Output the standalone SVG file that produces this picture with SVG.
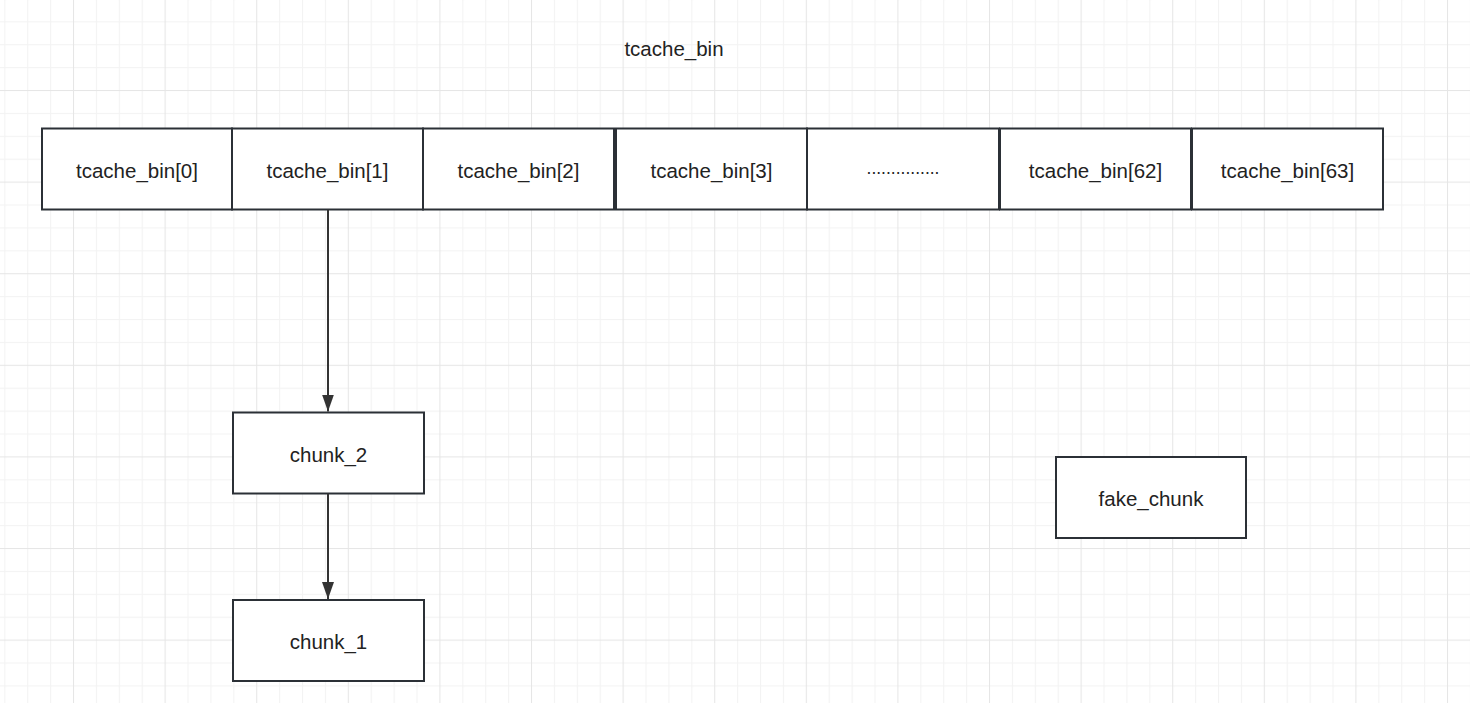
<svg xmlns="http://www.w3.org/2000/svg" width="1470" height="703" viewBox="0 0 1470 703">
<defs>
<pattern id="grid" patternUnits="userSpaceOnUse" x="73" y="90" width="91.6" height="91.6">
<rect x="0" y="0" width="91.6" height="91.6" fill="#ffffff"/>
<g fill="#f3f3f3">
<rect x="22.9" y="0" width="1" height="91.6"/>
<rect x="45.8" y="0" width="1" height="91.6"/>
<rect x="68.7" y="0" width="1" height="91.6"/>
<rect x="0" y="22.9" width="91.6" height="1"/>
<rect x="0" y="45.8" width="91.6" height="1"/>
<rect x="0" y="68.7" width="91.6" height="1"/>
</g>
<g fill="#e6e6e6">
<rect x="0" y="0" width="1" height="91.6"/>
<rect x="0" y="0" width="91.6" height="1"/>
</g>
</pattern>
<marker id="arrow" viewBox="0 0 17 12" refX="17" refY="6" markerWidth="17" markerHeight="12" markerUnits="userSpaceOnUse" orient="auto">
<path d="M0,0 L17,6 L0,12 Z" fill="#333333"/>
</marker>
<style>
.box{fill:#ffffff;stroke:#2b3036;stroke-width:2}
.lbl{font-family:"Liberation Sans",Arial,sans-serif;font-size:20.5px;fill:#222222;text-anchor:middle;dominant-baseline:central}
.edge{stroke:#333333;stroke-width:2;fill:none}
</style>
</defs>
<rect width="1470" height="703" fill="url(#grid)"/>
<g id="title"><text class="lbl" x="674" y="48">tcache_bin</text></g>
<g id="bin0"><rect class="box" x="42" y="128.5" width="190" height="81"/><text class="lbl" x="137" y="170">tcache_bin[0]</text></g>
<g id="bin1"><rect class="box" x="232" y="128.5" width="191" height="81"/><text class="lbl" x="327.5" y="170">tcache_bin[1]</text></g>
<g id="bin2"><rect class="box" x="423" y="128.5" width="191" height="81"/><text class="lbl" x="518.5" y="170">tcache_bin[2]</text></g>
<g id="bin3"><rect class="box" x="616" y="128.5" width="191" height="81"/><text class="lbl" x="711.5" y="170">tcache_bin[3]</text></g>
<g id="binDots"><rect class="box" x="807" y="128.5" width="192" height="81"/><text class="lbl" x="903" y="168" style="font-size:17.5px">...............</text></g>
<g id="bin62"><rect class="box" x="1000" y="128.5" width="191" height="81"/><text class="lbl" x="1095.5" y="170">tcache_bin[62]</text></g>
<g id="bin63"><rect class="box" x="1192" y="128.5" width="191" height="81"/><text class="lbl" x="1287.5" y="170">tcache_bin[63]</text></g>
<g id="chunk2"><rect class="box" x="233" y="412.5" width="191" height="81"/><text class="lbl" x="328.5" y="454">chunk_2</text></g>
<g id="chunk1"><rect class="box" x="233" y="600" width="191" height="81"/><text class="lbl" x="328.5" y="641">chunk_1</text></g>
<g id="fakechunk"><rect class="box" x="1056" y="457" width="190" height="81"/><text class="lbl" x="1151" y="498">fake_chunk</text></g>
<g id="connectors">
<line class="edge" x1="328" y1="209.5" x2="328" y2="411.5" marker-end="url(#arrow)"/>
<line class="edge" x1="328" y1="493.5" x2="328" y2="599" marker-end="url(#arrow)"/>
</g>
</svg>
